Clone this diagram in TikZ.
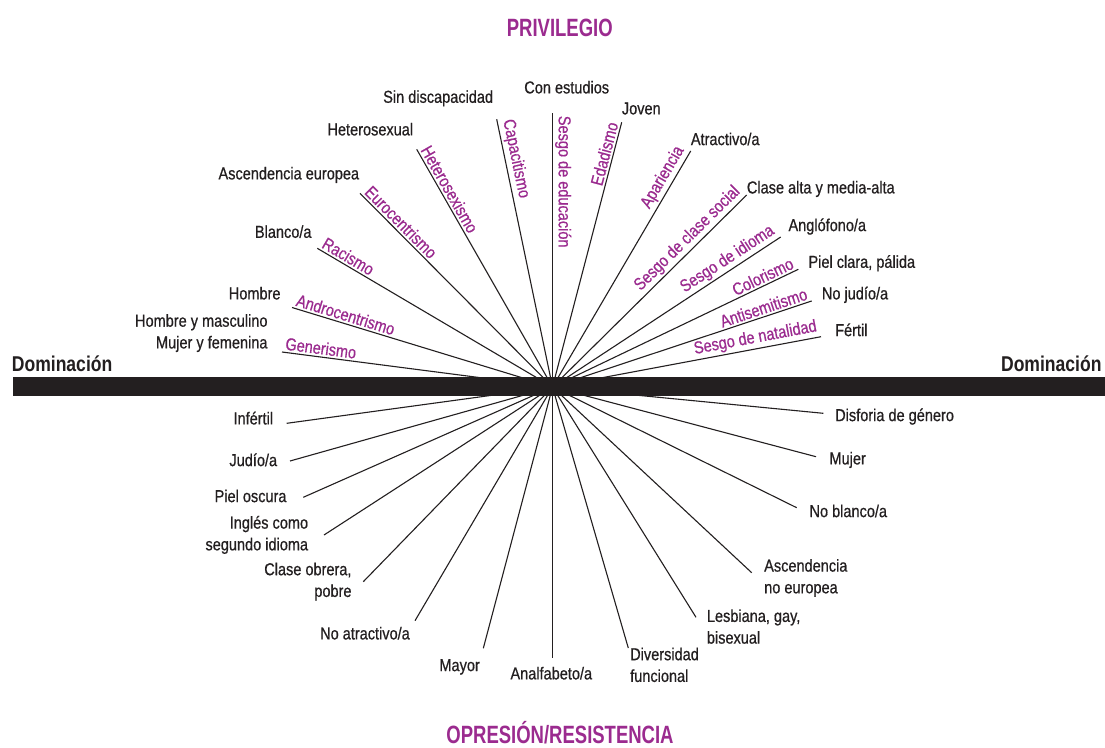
\documentclass[tikz,border=0pt]{standalone}
\usepackage{fontspec}
\setmainfont{Liberation Sans}[FakeStretch=0.84, FakeBold=0.6]
\newfontfamily\titlefont{Liberation Sans}[FakeStretch=0.74]
\newfontfamily\domfont{Liberation Sans}[FakeStretch=0.82]
\definecolor{ink}{HTML}{231F20}
\definecolor{purp}{HTML}{9B2B8F}
\tikzset{
  ray/.style={line width=1.1pt, draw=ink},
  lab/.style={font=\fontsize{17.3}{21.7}\selectfont, text=ink, inner sep=0pt, text height=12.2pt, text depth=0pt},
  bias/.style={font=\fontsize{17.3}{20}\selectfont, text=purp, inner sep=2pt},
  ttl/.style={font=\titlefont\bfseries\fontsize{25}{30}\selectfont, text=purp, inner sep=0pt, text height=17.9pt, text depth=0pt},
  dom/.style={font=\domfont\bfseries\fontsize{21.4}{25}\selectfont, text=ink, inner sep=0pt, text height=15.3pt, text depth=0pt}
}
\begin{document}
\begin{tikzpicture}[x=1pt,y=-1pt]
\fill[white] (0,0) rectangle (1105,747);
\useasboundingbox (0,0) rectangle (1105,747);
\coordinate (c) at (552.5,387);
% upper ends
\coordinate (u1) at (282,352);
\coordinate (u2) at (292,307.5);
\coordinate (u3) at (317.3,248.3);
\coordinate (u4) at (360,193.3);
\coordinate (u5) at (416.7,149.3);
\coordinate (u6) at (496.7,119.3);
\coordinate (u7) at (552.5,113.3);
\coordinate (u8) at (621.7,122.3);
\coordinate (u9) at (690.7,151);
\coordinate (u10) at (746.7,195);
\coordinate (u11) at (780.7,237);
\coordinate (u12) at (798.3,269.3);
\coordinate (u13) at (811.7,301);
\coordinate (u14) at (821,336.7);
% lower ends
\coordinate (d1) at (286.7,423.3);
\coordinate (d2) at (290,461);
\coordinate (d3) at (303.3,497.3);
\coordinate (d4) at (324,535);
\coordinate (d5) at (363.3,581.7);
\coordinate (d6) at (415,620.7);
\coordinate (d7) at (483.3,648.3);
\coordinate (d8) at (552.5,658.3);
\coordinate (d9) at (628.3,648);
\coordinate (d10) at (696,617.3);
\coordinate (d11) at (751.7,572.7);
\coordinate (d12) at (796.7,507.7);
\coordinate (d13) at (816,456.7);
\coordinate (d14) at (823.3,413.3);

% upper-left rays with bias labels
\draw[ray] (u1) -- (c) node[bias, pos=0, sloped, anchor=south west] (b1) {Generismo};
\draw[ray] (u2) -- (c) node[bias, pos=0, sloped, anchor=south west] (b2) {Androcentrismo};
\draw[ray] (u3) -- (c) node[bias, pos=0, sloped, anchor=south west] (b3) {Racismo};
\draw[ray] (u4) -- (c) node[bias, pos=0, sloped, anchor=south west] (b4) {Eurocentrismo};
\draw[ray] (u5) -- (c) node[bias, pos=0, sloped, anchor=south west] (b5) {Heterosexismo};
\draw[ray] (u6) -- (c) node[bias, pos=0, sloped, anchor=south west] (b6) {Capacitismo};
\draw[ray] (u7) -- (c) node[bias, pos=0, rotate=-90, anchor=south west] (b7) {Sesgo de educación};
% upper-right rays
\draw[ray] (c) -- (u8) node[bias, pos=1, sloped, anchor=south east] (b8) {Edadismo};
\draw[ray] (c) -- (u9) node[bias, pos=1, sloped, anchor=south east] (b9) {Apariencia};
\draw[ray] (c) -- (u10) node[bias, pos=1, sloped, anchor=south east] (b10) {Sesgo de clase social};
\draw[ray] (c) -- (u11) node[bias, pos=1, sloped, anchor=south east] (b11) {Sesgo de idioma};
\draw[ray] (c) -- (u12) node[bias, pos=1, sloped, anchor=south east] (b12) {Colorismo};
\draw[ray] (c) -- (u13) node[bias, pos=1, sloped, anchor=south east] (b13) {Antisemitismo};
\draw[ray] (c) -- (u14) node[bias, pos=1, sloped, anchor=south east] (b14) {Sesgo de natalidad};
% lower rays
\foreach \i in {1,...,14} { \draw[ray] (c) -- (d\i); }

% bar
\fill[ink] (13.3,377.3) rectangle (1105,396.3);

% titles
\node[ttl] (priv) at (559.8,27.3) {PRIVILEGIO};
\node[ttl] (opr) at (560,735) {OPRESIÓN/RESISTENCIA};
\node[dom, anchor=west] (domL) at (11.7,364) {Dominación};
\node[dom, anchor=east] (domR) at (1101.7,363.5) {Dominación};

% upper labels
\node[lab, anchor=east, align=right] (t1) at (267.7,342.3) {Hombre y masculino\\Mujer y femenina};
\node[lab, anchor=east] (t2) at (280.7,293.3) {Hombre};
\node[lab, anchor=east] (t3) at (311.7,231.7) {Blanco/a};
\node[lab, anchor=east] (t4) at (359.3,173.3) {Ascendencia europea};
\node[lab, anchor=east] (t5) at (413.3,129.3) {Heterosexual};
\node[lab, anchor=east] (t6) at (493.3,96.7) {Sin discapacidad};
\node[lab] (t7) at (566.7,87.3) {Con estudios};
\node[lab, anchor=west] (t8) at (621.7,108.3) {Joven};
\node[lab, anchor=west] (t9) at (690.7,139) {Atractivo/a};
\node[lab, anchor=west] (t10) at (746.7,187.3) {Clase alta y media-alta};
\node[lab, anchor=west] (t11) at (788.3,225) {Anglófono/a};
\node[lab, anchor=west] (t12) at (808.3,261.7) {Piel clara, pálida};
\node[lab, anchor=west] (t13) at (821.7,293.3) {No judío/a};
\node[lab, anchor=west] (t14) at (835,330) {Fértil};

% lower labels
\node[lab, anchor=east] (s1) at (273.3,418.3) {Infértil};
\node[lab, anchor=east] (s2) at (277.3,460) {Judío/a};
\node[lab, anchor=east] (s3) at (286.7,496) {Piel oscura};
\node[lab, anchor=east, align=right] (s4) at (308.3,544.2) {Inglés como\\segundo idioma};
\node[lab, anchor=east, align=right] (s5) at (351.7,590.8) {Clase obrera,\\pobre};
\node[lab, anchor=east] (s6) at (410,633.3) {No atractivo/a};
\node[lab, anchor=east] (s7) at (480,665) {Mayor};
\node[lab] (s8) at (551.3,673.3) {Analfabeto/a};
\node[lab, anchor=west, align=left] (s9) at (630,675.8) {Diversidad\\funcional};
\node[lab, anchor=west, align=left] (s10) at (706.7,637.5) {Lesbiana, gay,\\bisexual};
\node[lab, anchor=west, align=left] (s11) at (764,587.2) {Ascendencia\\no europea};
\node[lab, anchor=west] (s12) at (809.3,511) {No blanco/a};
\node[lab, anchor=west] (s13) at (829.3,458.3) {Mujer};
\node[lab, anchor=west] (s14) at (835,415) {Disforia de género};
\end{tikzpicture}
\end{document}
